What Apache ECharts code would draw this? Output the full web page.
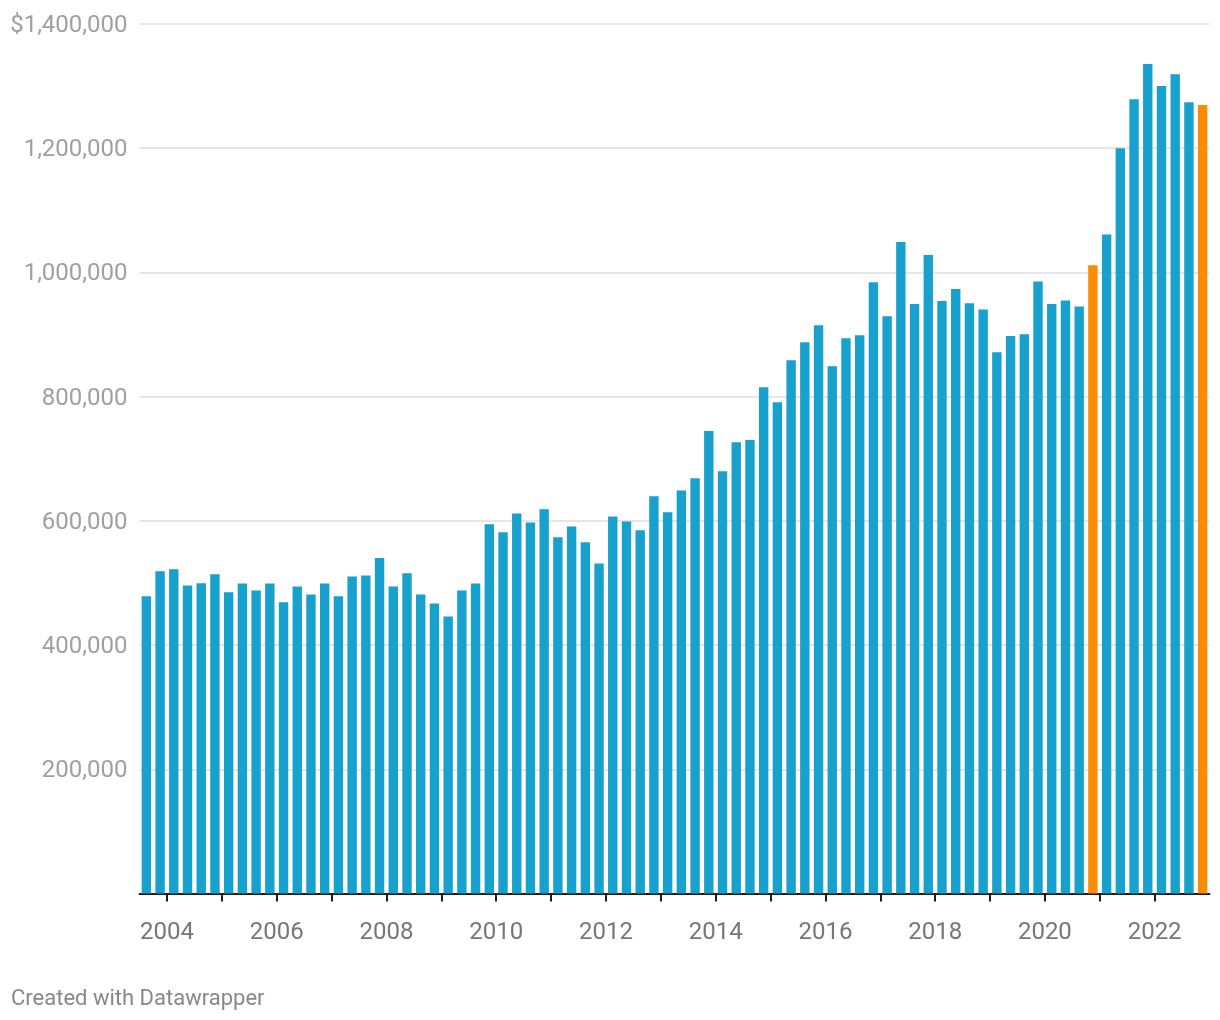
<!DOCTYPE html>
<html>
<head>
<meta charset="utf-8">
<script src="https://cdn.jsdelivr.net/npm/echarts@6/dist/echarts.min.js"></script>
<style>
  html, body { margin: 0; padding: 0; background: #ffffff; }
  #chart { width: 1220px; height: 1020px; }
</style>
</head>
<body>
<div id="chart"></div>
<script>
// ---- Data ----
const categories = [
  '2003 Q3','2003 Q4',
  '2004 Q1','2004 Q2','2004 Q3','2004 Q4',
  '2005 Q1','2005 Q2','2005 Q3','2005 Q4',
  '2006 Q1','2006 Q2','2006 Q3','2006 Q4',
  '2007 Q1','2007 Q2','2007 Q3','2007 Q4',
  '2008 Q1','2008 Q2','2008 Q3','2008 Q4',
  '2009 Q1','2009 Q2','2009 Q3','2009 Q4',
  '2010 Q1','2010 Q2','2010 Q3','2010 Q4',
  '2011 Q1','2011 Q2','2011 Q3','2011 Q4',
  '2012 Q1','2012 Q2','2012 Q3','2012 Q4',
  '2013 Q1','2013 Q2','2013 Q3','2013 Q4',
  '2014 Q1','2014 Q2','2014 Q3','2014 Q4',
  '2015 Q1','2015 Q2','2015 Q3','2015 Q4',
  '2016 Q1','2016 Q2','2016 Q3','2016 Q4',
  '2017 Q1','2017 Q2','2017 Q3','2017 Q4',
  '2018 Q1','2018 Q2','2018 Q3','2018 Q4',
  '2019 Q1','2019 Q2','2019 Q3','2019 Q4',
  '2020 Q1','2020 Q2','2020 Q3','2020 Q4',
  '2021 Q1','2021 Q2','2021 Q3','2021 Q4',
  '2022 Q1','2022 Q2','2022 Q3','2022 Q4'
];

const values = [
  478500, 519000,
  522000, 496000, 499500, 514000,
  485000, 499000, 488000, 499000,
  469000, 494500, 481500, 499000,
  478500, 510500, 512000, 540000,
  494500, 515500, 481500, 467000,
  446000, 488000, 499000, 594500,
  581500, 612000, 597500, 618500,
  573500, 591000, 565500, 531500,
  607000, 599000, 585000, 639500,
  614000, 649000, 668500, 744500,
  680000, 726500, 730000, 815000,
  791000, 858500, 887500, 915000,
  849000, 894000, 899000, 984000,
  929500, 1049000, 949000, 1028000,
  954000, 973500, 950500, 940500,
  871500, 897500, 900500, 985500,
  949000, 955000, 945000, 1011500,
  1061000, 1200000, 1279000, 1335500,
  1300000, 1319000, 1274000, 1269500
];

const highlighted = ['2020 Q4', '2022 Q4'];

const xTickYears = [2004,2005,2006,2007,2008,2009,2010,2011,2012,2013,2014,2015,2016,2017,2018,2019,2020,2021,2022];
const xLabelYears = [2004,2006,2008,2010,2012,2014,2016,2018,2020,2022];
const yMax = 1400000;
const yStep = 200000;

// ---- Styles ----
const BLUE = '#18a1cd';
const ORANGE = '#fa8c00';

const barData = categories.map(function (c, i) {
  const parts = c.split(' Q');
  const yr = Number(parts[0]);
  const q = Number(parts[1]);
  return {
    value: [yr + (q - 0.5) / 4, values[i]],
    itemStyle: { color: highlighted.indexOf(c) >= 0 ? ORANGE : BLUE }
  };
});

const chart = echarts.init(document.getElementById('chart'), null, { renderer: 'canvas' });

const option = {
  animation: false,
  backgroundColor: '#ffffff',
  grid: {
    left: 139.5, right: 10.5, top: 24, bottom: 126.5,
    containLabel: false, outerBoundsMode: 'none'
  },
  xAxis: {
    type: 'value',
    min: 2003.5,
    max: 2023,
    axisLine: { show: true, onZero: false, lineStyle: { color: '#1d1d1d', width: 2 } },
    axisTick: {
      show: true, inside: false, length: 8,
      customValues: xTickYears,
      lineStyle: { color: '#1d1d1d', width: 2 }
    },
    axisLabel: {
      customValues: xLabelYears,
      color: '#777777',
      fontSize: 24,
      fontFamily: 'Roboto',
      margin: 27,
      formatter: function (v) { return String(v); }
    },
    splitLine: { show: false }
  },
  yAxis: {
    type: 'value',
    min: 0,
    max: yMax,
    interval: yStep,
    axisLine: { show: false },
    axisTick: { show: false },
    axisLabel: {
      color: '#a0a0a0',
      fontSize: 24,
      fontFamily: 'Roboto',
      margin: 12,
      formatter: function (v) {
        if (v === 0) return '';
        const s = Number(v).toLocaleString('en-US');
        return '{a|' + (v === yMax ? '$' + s : s) + '}';
      },
      rich: {
        a: {
          color: '#a0a0a0',
          fontSize: 24,
          fontFamily: 'Roboto',
          padding: [4, 0, 0, 0]
        }
      }
    },
    splitLine: { show: true, lineStyle: { color: '#e6e6e6', width: 2 } }
  },
  series: [{
    type: 'bar',
    data: barData,
    barWidth: 9.4
  }],
  graphic: [{
    type: 'text',
    x: 11,
    y: 999,
    style: {
      text: 'Created with Datawrapper',
      fill: '#888888',
      fontSize: 22,
      fontFamily: 'Roboto',
      align: 'left',
      verticalAlign: 'middle'
    }
  }]
};

chart.setOption(option);
</script>
</body>
</html>
